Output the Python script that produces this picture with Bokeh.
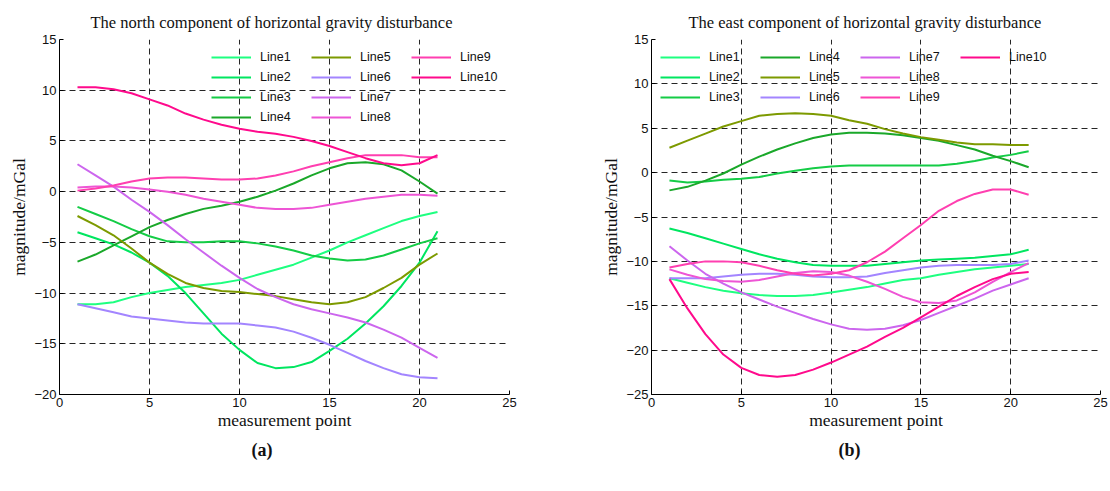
from bokeh.plotting import figure
from bokeh.models import Legend, LegendItem, FixedTicker, Title
from bokeh.layouts import row
from bokeh.embed import file_html
from bokeh.resources import INLINE

points = list(range(1, 22))
labels = ["Line%d" % i for i in range(1, 11)]
colors = ["#1EFF80", "#00E660", "#14CC46", "#1AA82A", "#7D9A00",
          "#A385FF", "#CC66EE", "#EE55D5", "#FF3FB0", "#FF0A8C"]

# (a) north component
north_line1 = [-11.1, -11.1, -10.9, -10.4, -10.0, -9.7, -9.4, -9.2, -9.0, -8.7, -8.2,
               -7.7, -7.2, -6.5, -5.8, -5.0, -4.3, -3.6, -2.9, -2.4, -2.0]
north_line2 = [-4.0, -4.6, -5.2, -6.0, -7.0, -8.3, -10.0, -12.0, -14.0, -15.6, -16.9,
               -17.4, -17.3, -16.8, -15.7, -14.5, -13.0, -11.3, -9.3, -7.0, -3.9]
north_line3 = [-1.5, -2.2, -2.9, -3.7, -4.4, -4.9, -5.0, -5.0, -4.9, -4.9, -5.1,
               -5.4, -5.8, -6.3, -6.6, -6.8, -6.7, -6.3, -5.7, -5.1, -4.6]
north_line4 = [-6.9, -6.2, -5.3, -4.4, -3.5, -2.8, -2.2, -1.7, -1.4, -1.0, -0.5,
               0.1, 0.8, 1.6, 2.3, 2.8, 2.9, 2.7, 2.1, 1.0, -0.2]
north_line5 = [-2.4, -3.3, -4.3, -5.6, -7.0, -8.1, -9.0, -9.5, -9.8, -9.9, -10.1,
               -10.3, -10.6, -10.9, -11.1, -10.9, -10.4, -9.5, -8.5, -7.2, -6.1]
north_line6 = [-11.1, -11.5, -11.9, -12.3, -12.5, -12.7, -12.9, -13.0, -13.0, -13.0, -13.2,
               -13.4, -13.8, -14.4, -15.1, -15.9, -16.7, -17.4, -18.0, -18.3, -18.4]
north_line7 = [2.7, 1.6, 0.5, -0.8, -2.0, -3.3, -4.7, -6.0, -7.3, -8.5, -9.6,
               -10.4, -11.1, -11.6, -12.0, -12.4, -12.9, -13.6, -14.4, -15.4, -16.4]
north_line8 = [0.4, 0.5, 0.5, 0.4, 0.2, 0.0, -0.3, -0.7, -1.0, -1.3, -1.6,
               -1.7, -1.7, -1.6, -1.3, -1.0, -0.7, -0.5, -0.3, -0.3, -0.4]
north_line9 = [0.1, 0.3, 0.6, 1.0, 1.3, 1.4, 1.4, 1.3, 1.2, 1.2, 1.3,
               1.6, 2.0, 2.5, 2.9, 3.3, 3.6, 3.6, 3.6, 3.4, 3.4]
north_line10 = [10.3, 10.3, 10.1, 9.7, 9.1, 8.5, 7.7, 7.1, 6.6, 6.2, 5.9,
                5.7, 5.4, 5.0, 4.5, 3.9, 3.3, 2.8, 2.6, 2.8, 3.6]

# (b) east component
east_line1 = [-11.9, -12.4, -12.9, -13.3, -13.6, -13.8, -13.9, -13.9, -13.8, -13.5, -13.2,
              -12.9, -12.5, -12.1, -11.9, -11.5, -11.2, -10.9, -10.7, -10.5, -10.3]
east_line2 = [-6.3, -6.8, -7.4, -8.0, -8.6, -9.2, -9.7, -10.1, -10.4, -10.5, -10.5,
              -10.5, -10.3, -10.1, -9.9, -9.8, -9.7, -9.6, -9.4, -9.2, -8.7]
east_line3 = [-0.9, -1.1, -1.0, -0.8, -0.7, -0.5, -0.1, 0.2, 0.5, 0.7, 0.8,
              0.8, 0.8, 0.8, 0.8, 0.8, 1.0, 1.3, 1.7, 2.0, 2.4]
east_line4 = [-2.0, -1.6, -0.9, -0.1, 0.9, 1.8, 2.6, 3.3, 3.9, 4.3, 4.5,
              4.5, 4.4, 4.2, 3.9, 3.6, 3.1, 2.6, 1.9, 1.3, 0.6]
east_line5 = [2.8, 3.6, 4.4, 5.2, 5.8, 6.4, 6.6, 6.7, 6.6, 6.4, 5.9,
              5.5, 4.9, 4.4, 4.0, 3.7, 3.4, 3.2, 3.2, 3.1, 3.1]
east_line6 = [-11.9, -11.9, -11.9, -11.7, -11.5, -11.4, -11.4, -11.5, -11.7, -11.8, -11.8,
              -11.7, -11.3, -11.0, -10.7, -10.5, -10.4, -10.4, -10.4, -10.3, -9.9]
east_line7 = [-8.3, -9.9, -11.4, -12.5, -13.5, -14.3, -15.1, -15.8, -16.5, -17.1, -17.6,
              -17.7, -17.6, -17.2, -16.6, -15.8, -15.0, -14.2, -13.3, -12.6, -11.9]
east_line8 = [-10.9, -11.5, -12.0, -12.2, -12.3, -12.1, -11.7, -11.3, -11.1, -11.2, -11.6,
              -12.3, -13.1, -14.0, -14.6, -14.7, -14.4, -13.5, -12.3, -11.2, -10.2]
east_line9 = [-10.7, -10.3, -10.0, -10.0, -10.1, -10.5, -11.0, -11.4, -11.6, -11.4, -11.0,
              -10.1, -8.9, -7.4, -5.9, -4.3, -3.2, -2.4, -1.9, -1.9, -2.5]
east_line10 = [-12.0, -15.3, -18.2, -20.5, -22.0, -22.8, -23.0, -22.8, -22.2, -21.4, -20.5,
               -19.6, -18.5, -17.5, -16.3, -15.1, -13.9, -12.9, -12.0, -11.4, -11.2]

north = [north_line1, north_line2, north_line3, north_line4, north_line5,
         north_line6, north_line7, north_line8, north_line9, north_line10]
east = [east_line1, east_line2, east_line3, east_line4, east_line5,
        east_line6, east_line7, east_line8, east_line9, east_line10]

x_ticks = [0, 5, 10, 15, 20, 25]

SERIF = "Liberation Serif"
SANS = "Liberation Sans"


def make_panel(title, series, y_range, y_ticks, min_left, min_right, legend_rows,
               legend_loc, title_offset, caption, caption_offset):
    p = figure(width=555, height=491, x_range=(0, 25), y_range=y_range,
               output_backend="svg", toolbar_location=None,
               min_border_left=min_left, min_border_right=min_right,
               min_border_top=39, min_border_bottom=97)
    p.title.text = title
    p.title.align = "left"
    p.title.offset = title_offset
    p.title.standoff = 16
    p.title.text_font = SERIF
    p.title.text_font_size = "16.5px"
    p.title.text_font_style = "normal"
    p.title.text_color = "#111111"
    p.outline_line_color = None
    p.background_fill_color = "white"
    p.border_fill_color = "white"

    for ax in (p.xaxis[0], p.yaxis[0]):
        ax.major_label_text_font = SANS
        ax.major_label_text_font_size = "13px"
        ax.major_label_text_color = "#111111"
        ax.axis_label_text_font = SERIF
        ax.axis_label_text_font_size = "17.5px"
        ax.axis_label_text_font_style = "normal"
        ax.axis_label_text_color = "#111111"
        ax.axis_line_color = "black"
        ax.major_tick_in = 4
        ax.major_tick_out = 0
        ax.minor_tick_in = 0
        ax.minor_tick_out = 0
        ax.major_tick_line_color = "black"
        ax.major_label_standoff = 3
        ax.axis_label_standoff = 2
    p.xaxis[0].axis_label_standoff = 0
    p.xaxis[0].ticker = FixedTicker(ticks=x_ticks)
    p.yaxis[0].ticker = FixedTicker(ticks=y_ticks)
    p.xaxis[0].axis_label = "measurement point"
    p.yaxis[0].axis_label = "magnitude/mGal"

    for g in (p.xgrid[0], p.ygrid[0]):
        g.grid_line_color = "black"
        g.grid_line_dash = "6 4"
        g.grid_line_alpha = 0.85
        g.grid_line_width = 1

    items = []
    for lab, col, ys in zip(labels, colors, series):
        r = p.line(points, ys, line_color=col, line_width=2)
        items.append(LegendItem(label=lab, renderers=[r]))

    legend = Legend(items=items, location=legend_loc, orientation="vertical",
                    nrows=legend_rows, background_fill_alpha=0, border_line_color=None,
                    label_text_font=SANS, label_text_font_size="12.5px",
                    label_text_color="#111111",
                    glyph_width=40, glyph_height=14, label_height=14,
                    label_width=45, label_standoff=9, spacing=6, padding=5, margin=0)
    p.add_layout(legend)

    cap = Title(text=caption, align="left", offset=caption_offset,
                text_font=SERIF, text_font_size="18px", text_font_style="bold",
                text_color="#111111", standoff=10)
    p.add_layout(cap, "below")
    return p


pa = make_panel("The north component of horizontal gravity disturbance", north,
                (-20, 15), [-20, -15, -10, -5, 0, 5, 10, 15], 59, 46, 4,
                (152, 270), 31, "(a)", 192)
pb = make_panel("The east component of horizontal gravity disturbance", east,
                (-25, 15), [-25, -20, -15, -10, -5, 0, 5, 10, 15], 96, 10, 3,
                (9, 290), 37, "(b)", 187)

layout = row(pa, pb)
open("out.html", "w").write(file_html(layout, INLINE))
